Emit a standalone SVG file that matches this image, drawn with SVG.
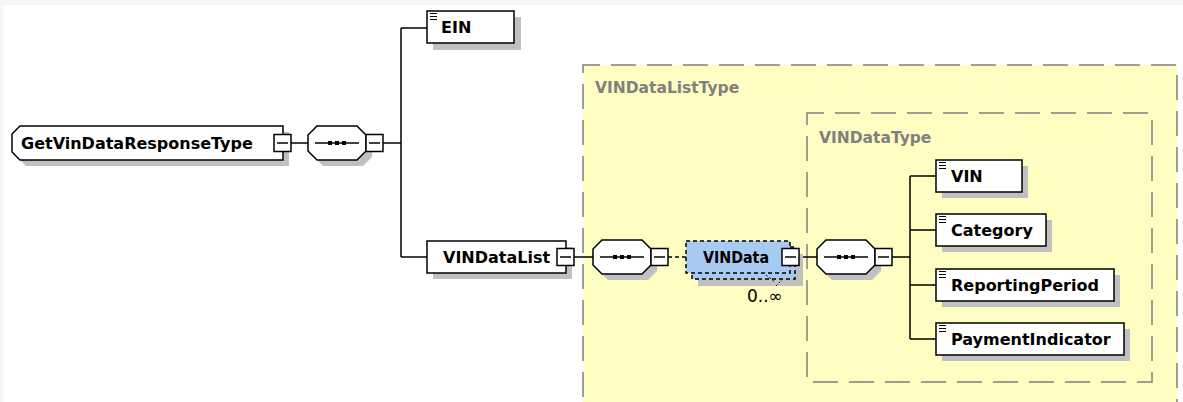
<svg xmlns="http://www.w3.org/2000/svg" xmlns:xlink="http://www.w3.org/1999/xlink" width="1183" height="402" viewBox="0 0 1183 402">
<style>
.bx{fill:#fff;stroke:#000;stroke-width:1.5}
.sh{fill:#c0c0c0}
.t{font-family:"DejaVu Sans",Verdana,sans-serif;font-weight:bold;font-size:16px;fill:#000}
.lbl{font-family:"DejaVu Sans",Verdana,sans-serif;font-weight:bold;font-size:15.5px;fill:#808080}
.card{font-family:"DejaVu Sans",Verdana,sans-serif;font-size:17px;fill:#000}
.grp{fill:#fffdc2;stroke:#808080;stroke-width:1.5;stroke-dasharray:25 11;stroke-dashoffset:8}
.ln{fill:none;stroke:#000;stroke-width:1.5}
.dl{fill:none;stroke:#000;stroke-width:1.5;stroke-dasharray:4 3}
.opt{fill:#a9caf0;stroke:#000;stroke-width:1.5;stroke-dasharray:4 3}
</style>
<defs>
<g id="minus">
<rect x="0" y="0" width="17" height="17" fill="#fff" stroke="#000" stroke-width="1.5"/>
<line x1="3" y1="8.5" x2="14" y2="8.5" stroke="#000" stroke-width="1.5"/>
</g>
<g id="icon">
<path d="M0,0.5H7M0,3.5H7M0,6.5H7" stroke="#000" stroke-width="1.2" fill="none"/>
</g>
<g id="seq">
<polygon class="sh" points="15,6 55,6 64,15 64,31 55,40 15,40 6,31 6,15"/>
<polygon class="bx" points="9,0 49,0 58,9 58,25 49,34 9,34 0,25 0,9"/>
<line x1="7" y1="17" x2="51" y2="17" stroke="#000" stroke-width="1.5"/>
<rect x="20" y="15" width="4" height="4" fill="#000"/>
<rect x="27" y="15" width="4" height="4" fill="#000"/>
<rect x="34" y="15" width="4" height="4" fill="#000"/>
<use xlink:href="#minus" x="58" y="8.5"/>
</g>
</defs>

<rect x="0" y="0" width="1183" height="402" fill="#f6f6f6"/>
<rect x="3" y="5" width="1180" height="397" fill="#fff"/>

<g id="VINDataListType">
<rect class="grp" x="583" y="65" width="594" height="360"/>
<text class="lbl" x="595" y="93">VINDataListType</text>
</g>
<g id="VINDataType">
<rect class="grp" x="807" y="113" width="345" height="269" fill="none"/>
<text class="lbl" x="819" y="143">VINDataType</text>
</g>

<g id="connectors">
<path class="ln" d="M291,143H308M383,143H401M401,28V257M401,28H427M401,257H427"/>
<path class="ln" d="M574,257H593M799,257H817M892,257H910M910,176V339M910,176H936M910,230H936M910,285H936M910,339H936"/>
<path class="dl" d="M668,257H686"/>
</g>

<g id="GetVinDataResponseType">
<polygon class="sh" points="26,132 289,132 289,166 26,166 18,158 18,140"/>
<polygon class="bx" points="20,126 283,126 283,160 20,160 12,152 12,134"/>
<text class="t" x="21" y="149">GetVinDataResponseType</text>
<use xlink:href="#minus" x="274" y="134.5"/>
</g>

<g id="seq1"><use xlink:href="#seq" x="308" y="126"/></g>

<g id="EIN">
<rect class="sh" x="433" y="17" width="88" height="33"/>
<rect class="bx" x="427" y="11" width="87" height="32"/>
<use xlink:href="#icon" x="430" y="13"/>
<text class="t" x="441" y="33">EIN</text>
</g>

<g id="VINDataList">
<rect class="sh" x="433" y="247" width="139" height="32"/>
<rect class="bx" x="427" y="241" width="139" height="32"/>
<text class="t" x="443" y="263">VINDataList</text>
<use xlink:href="#minus" x="557" y="248.5"/>
</g>

<g id="seq2"><use xlink:href="#seq" x="593" y="240"/></g>

<g id="VINData">
<rect class="sh" x="698" y="254" width="105" height="32"/>
<rect class="opt" x="692" y="247" width="103" height="32"/>
<rect class="opt" x="686" y="241" width="104" height="32"/>
<text class="t" x="703" y="263" textLength="66" lengthAdjust="spacingAndGlyphs">VINData</text>
<use xlink:href="#minus" x="782" y="248.5"/>
<path d="M766,275L775,282M776,286L782,280" fill="none" stroke="#000" stroke-width="1" stroke-dasharray="2 2"/>
<text class="card" x="747" y="302">0..∞</text>
</g>

<g id="seq3"><use xlink:href="#seq" x="817" y="240"/></g>

<g id="VIN">
<rect class="sh" x="942" y="166" width="86" height="32"/>
<rect class="bx" x="936" y="160" width="86" height="32"/>
<use xlink:href="#icon" x="939" y="162"/>
<text class="t" x="951" y="182">VIN</text>
</g>
<g id="Category">
<rect class="sh" x="942" y="220" width="110" height="32"/>
<rect class="bx" x="936" y="214" width="110" height="32"/>
<use xlink:href="#icon" x="939" y="216"/>
<text class="t" x="951" y="236">Category</text>
</g>
<g id="ReportingPeriod">
<rect class="sh" x="942" y="275" width="178" height="32"/>
<rect class="bx" x="936" y="269" width="178" height="32"/>
<use xlink:href="#icon" x="939" y="271"/>
<text class="t" x="951" y="291">ReportingPeriod</text>
</g>
<g id="PaymentIndicator">
<rect class="sh" x="942" y="329" width="188" height="32"/>
<rect class="bx" x="936" y="323" width="188" height="32"/>
<use xlink:href="#icon" x="939" y="325"/>
<text class="t" x="951" y="345">PaymentIndicator</text>
</g>
</svg>
